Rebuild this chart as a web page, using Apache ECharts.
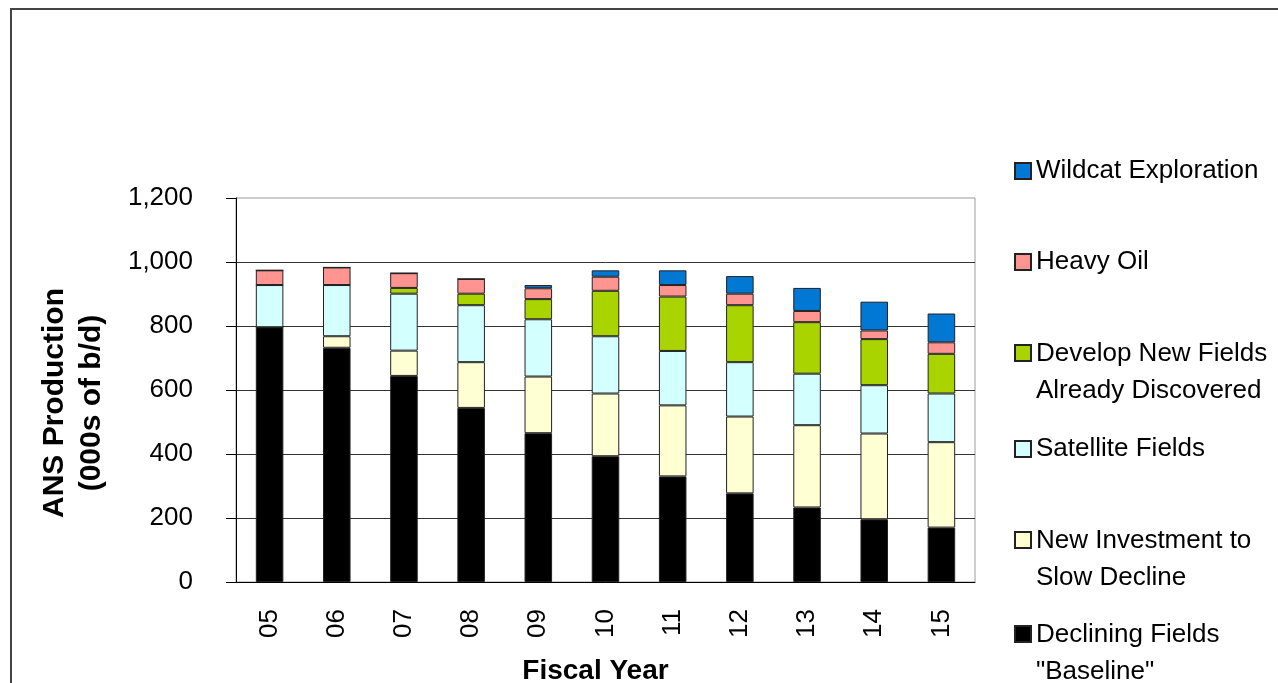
<!DOCTYPE html>
<html>
<head>
<meta charset="utf-8">
<script src="https://cdn.jsdelivr.net/npm/echarts@6/dist/echarts.min.js"></script>
<style>
  html, body { margin: 0; padding: 0; background: #fff; overflow: hidden; }
  #frame { position: absolute; left: 10px; top: 8px; width: 2000px; height: 2000px;
           border-left: 2px solid #444; border-top: 2px solid #444; }
  #chart { position: absolute; left: 0; top: 0; width: 1278px; height: 683px; }
</style>
</head>
<body>
<div id="frame"></div>
<div id="chart"></div>
<script>
(function(){
        var years = ['05', '06', '07', '08', '09', '10', '11', '12', '13', '14', '15'];

        var declining  = [796, 732, 644, 544, 465, 393, 330, 277, 233, 196, 170];
        var newInvest  = [0, 36, 79, 143, 177, 196, 222, 240, 257, 268, 267];
        var satellite  = [132, 160, 178, 178, 179, 179, 170, 170, 161, 151, 152];
        var developNew = [0, 0, 18, 36, 63, 142, 170, 178, 161, 144, 124];
        var heavyOil   = [46, 55, 46, 46, 34, 44, 36, 36, 35, 27, 36];
        var wildcat    = [0, 0, 0, 0, 10, 20, 46, 55, 72, 90, 90];

        var names = {
            declining: 'Declining Fields\n"Baseline"',
            newInvest: 'New Investment to\nSlow Decline',
            satellite: 'Satellite Fields',
            developNew: 'Develop New Fields\nAlready Discovered',
            heavyOil: 'Heavy Oil',
            wildcat: 'Wildcat Exploration'
        };

        var font = "'Liberation Sans', Arial, sans-serif";

        function bar(name, values, color) {
            return {
                type: 'bar',
                name: name,
                stack: 'total',
                data: values,
                barWidth: '41%',
                itemStyle: {
                    color: color,
                    borderColor: '#222',
                    borderWidth: 1
                }
            };
        }

        // one legend per item so the uneven spacing can be matched;
        // two-line names get a blank spacer line on top so the icon sits on line one
        function legendAt(name, top, twoLines) {
            return {
                data: [name],
                left: 1009,
                top: top,
                orient: 'vertical',
                icon: 'rect',
                itemWidth: 16,
                itemHeight: 16,
                itemGap: 0,
                formatter: function (n) {
                    var lines = n.split('\n').map(function (s) { return '{t|' + s + '}'; });
                    if (twoLines) lines.unshift('{e| }');
                    return lines.join('\n');
                },
                textStyle: {
                    fontFamily: font,
                    fontSize: 26,
                    color: '#000',
                    rich: {
                        t: { fontFamily: font, fontSize: 26, color: '#000', lineHeight: 37 },
                        e: { fontSize: 10, lineHeight: 38 }
                    }
                }
            };
        }

        var currentChart = echarts.init(document.getElementById('chart'));

        currentChart.setOption({
            animation: false,
            backgroundColor: 'transparent',
            legend: [
                legendAt(names.wildcat, 153, false),
                legendAt(names.heavyOil, 244, false),
                legendAt(names.developNew, 306, true),
                legendAt(names.satellite, 431, false),
                legendAt(names.newInvest, 493, true),
                legendAt(names.declining, 587, true)
            ],
            grid: {
                left: 236,
                right: 303,
                top: 198,
                bottom: 101,
                outerBoundsMode: 'none',
                show: true,
                borderColor: '#999',
                borderWidth: 1
            },
            xAxis: {
                type: 'category',
                data: years,
                name: 'Fiscal Year',
                nameLocation: 'middle',
                nameGap: 75,
                nameTextStyle: {
                    fontFamily: font,
                    fontSize: 28,
                    fontWeight: 'bold',
                    color: '#000',
                    padding: [0, 20, 0, 0]
                },
                axisLine: { lineStyle: { color: '#000', width: 1 } },
                axisTick: { inside: true, length: 5, lineStyle: { color: '#333' } },
                axisLabel: {
                    rotate: 90,
                    margin: 27,
                    interval: 0,
                    fontFamily: font,
                    fontSize: 26,
                    color: '#000'
                }
            },
            yAxis: {
                type: 'value',
                min: 0,
                max: 1200,
                interval: 200,
                name: 'ANS Production\n(000s of b/d)',
                nameLocation: 'middle',
                nameRotate: 90,
                nameGap: 126,
                nameTextStyle: {
                    fontFamily: font,
                    fontSize: 30,
                    fontWeight: 'bold',
                    color: '#000',
                    lineHeight: 37,
                    padding: [0, 26, 0, 0]
                },
                axisLine: { show: true, lineStyle: { color: '#000', width: 1 } },
                axisTick: { show: true, length: 10, lineStyle: { color: '#000' } },
                axisLabel: {
                    margin: 43,
                    fontFamily: font,
                    fontSize: 26,
                    color: '#000',
                    formatter: function (v) { return v.toLocaleString('en-US'); }
                },
                splitLine: {
                    show: true,
                    showMaxLine: false,
                    lineStyle: { color: '#333', width: 1 }
                }
            },
            series: [
                bar(names.declining, declining, '#000000'),
                bar(names.newInvest, newInvest, '#FFFFD4'),
                bar(names.satellite, satellite, '#D4FFFF'),
                bar(names.developNew, developNew, '#AAD400'),
                bar(names.heavyOil, heavyOil, '#FF9490'),
                bar(names.wildcat, wildcat, '#0078D4')
            ]
        });
})();
</script>
</body>
</html>
